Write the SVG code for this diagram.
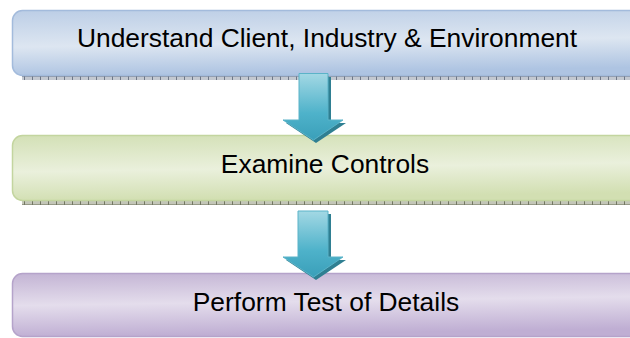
<svg xmlns="http://www.w3.org/2000/svg" width="630" height="338" viewBox="0 0 630 338">
  <defs>
    <style>
      .label { font-family: "Liberation Sans", Arial, sans-serif; font-size: 26.4px; fill: #000; text-anchor: middle; }
      .arrow-body { fill: url(#arrowFill); stroke: #5bb3c8; stroke-width: 1; }
      .arrow-shadow { fill: #2f7f92; }
    </style>
    <linearGradient id="blueFill" x1="0" y1="0" x2="0.15" y2="1">
      <stop offset="0" stop-color="#bccee6"/>
      <stop offset="0.55" stop-color="#dde6f1"/>
      <stop offset="1" stop-color="#aec4e2"/>
    </linearGradient>
    <linearGradient id="greenFill" x1="0" y1="0" x2="0.15" y2="1">
      <stop offset="0" stop-color="#d3e0b6"/>
      <stop offset="0.55" stop-color="#eaf0dc"/>
      <stop offset="1" stop-color="#d2dfb2"/>
    </linearGradient>
    <linearGradient id="purpleFill" x1="0" y1="0" x2="0.15" y2="1">
      <stop offset="0" stop-color="#c3b4d4"/>
      <stop offset="0.5" stop-color="#e4ddec"/>
      <stop offset="1" stop-color="#bfaed3"/>
    </linearGradient>
    <linearGradient id="arrowFill" x1="0" y1="0" x2="0" y2="1">
      <stop offset="0" stop-color="#a3d8e4"/>
      <stop offset="0.6" stop-color="#4eb2ca"/>
      <stop offset="1" stop-color="#3a9fb9"/>
    </linearGradient>
    <pattern id="ticksBlue" x="0" y="0" width="8" height="4" patternUnits="userSpaceOnUse">
      <rect width="8" height="4" fill="#c3c8d0"/>
      <rect width="8" height="1" fill="#8d96a6"/>
      <rect width="1" height="4" fill="#6f7888"/>
    </pattern>
    <pattern id="ticksGreen" x="0" y="0" width="8" height="4" patternUnits="userSpaceOnUse">
      <rect width="8" height="4" fill="#c3c6b8"/>
      <rect width="8" height="1" fill="#969a86"/>
      <rect width="1" height="4" fill="#737763"/>
    </pattern>
  </defs>

  <rect width="630" height="338" fill="#ffffff"/>

  <!-- step 1 -->
  <g id="step-understand">
    <rect x="22" y="76" width="608" height="4" fill="url(#ticksBlue)"/>
    <rect x="12.5" y="10.5" width="640" height="65" rx="10" fill="url(#blueFill)" stroke="#a3bbdc" stroke-width="1.5"/>
    <text class="label" x="327" y="47">Understand Client, Industry &amp; Environment</text>
  </g>

  <!-- step 2 -->
  <g id="step-examine">
    <rect x="22" y="201" width="608" height="4" fill="url(#ticksGreen)"/>
    <rect x="12.5" y="135.5" width="640" height="65" rx="10" fill="url(#greenFill)" stroke="#c3d59f" stroke-width="1.5"/>
    <text class="label" x="325" y="173">Examine Controls</text>
  </g>

  <!-- step 3 -->
  <g id="step-perform">
    <rect x="12.5" y="273.5" width="640" height="63" rx="10" fill="url(#purpleFill)" stroke="#b5a3ca" stroke-width="1.5"/>
    <text class="label" x="326" y="311">Perform Test of Details</text>
  </g>

  <!-- connectors: block arrows between steps -->
  <g id="connectors">
    <g id="arrow-1-2">
      <path class="arrow-shadow" d="M302 77 H331 V123 H346 L316 143 L286 123 H302 Z"/>
      <path class="arrow-body" d="M299 73.5 H328 V120 H343 L313.5 140 L283 120 H299 Z"/>
    </g>
    <g id="arrow-2-3">
      <path class="arrow-shadow" d="M302 214 H331 V260 H346 L316 280 L286 260 H302 Z"/>
      <path class="arrow-body" d="M298 211 H328 V257 H343 L313.5 277 L283 257 H298 Z"/>
    </g>
  </g>
</svg>
